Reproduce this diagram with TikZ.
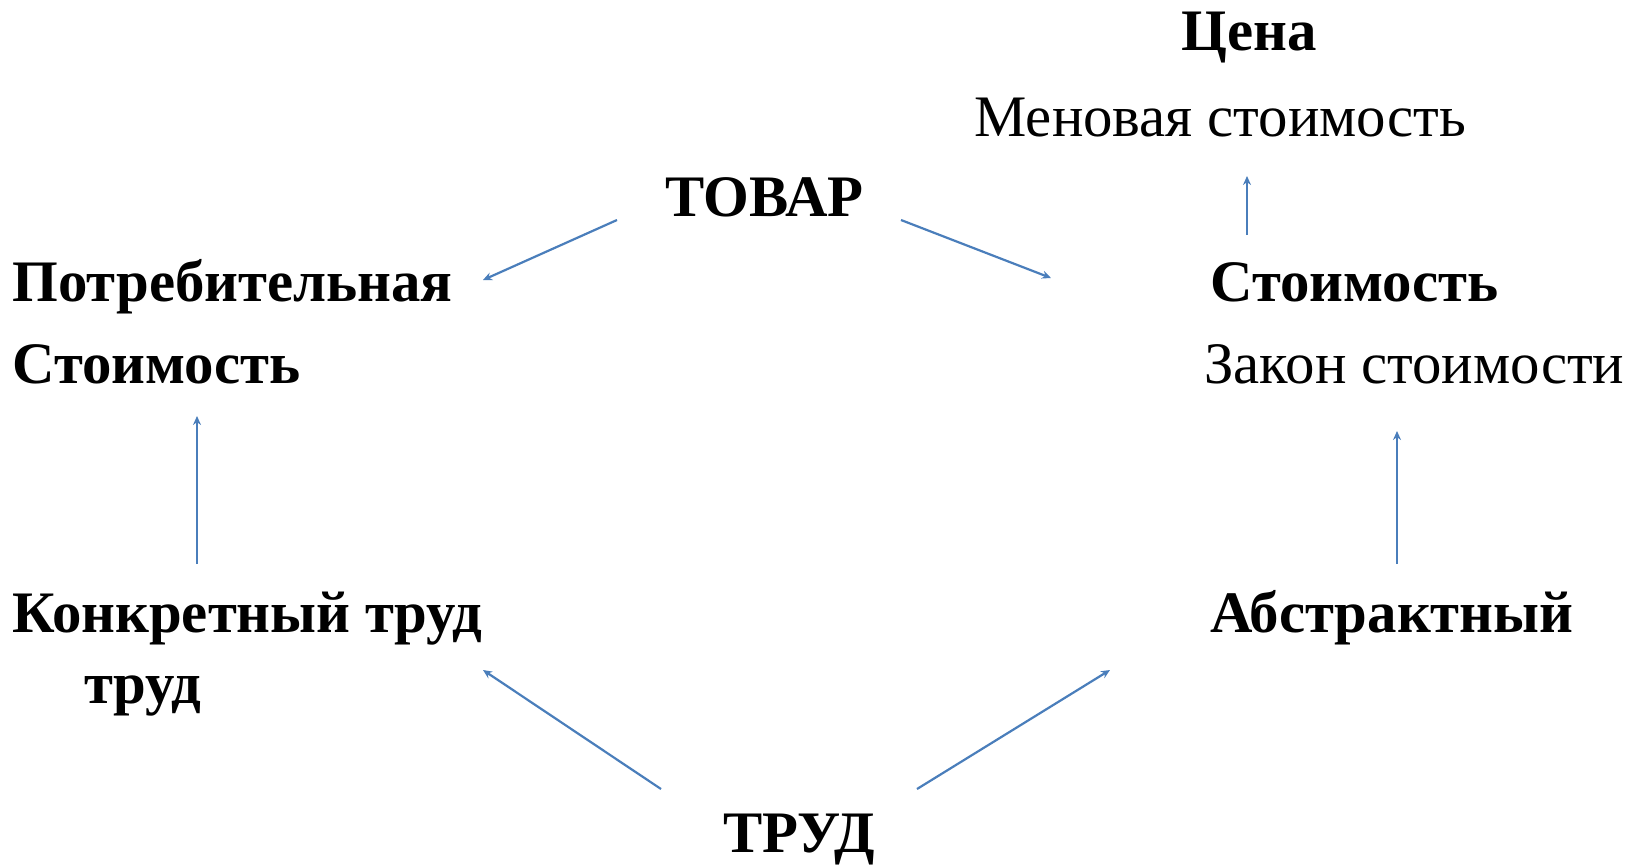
\documentclass[tikz,border=0pt]{standalone}
\usepackage{fontspec}
\setmainfont{Liberation Serif}
\usetikzlibrary{arrows.meta}
\definecolor{arrowblue}{HTML}{4A7EBB}
\tikzset{
  bl/.style={anchor=base west, inner sep=0pt, font=\fontsize{29.4}{35}\selectfont\bfseries},
  rg/.style={anchor=base west, inner sep=0pt, font=\fontsize{29.4}{35}\selectfont},
  arr/.style={draw=arrowblue, line width=1.1pt, -{Stealth[length=4.5pt,width=4pt]}}
}
\begin{document}
\begin{tikzpicture}[x=0.5pt,y=-0.5pt]
\useasboundingbox (0,0) rectangle (1639,864);
\node[bl] (cena) at (1181,50) {Цена};
\node[rg] (menov) at (974,136) {Меновая стоимость};
\node[bl] (tovar) at (665,216) {ТОВАР};
\node[bl] (potr) at (12,301) {Потребительная};
\node[bl] (stoimL) at (12,383) {Стоимость};
\node[bl] (stoimR) at (1210,301) {Стоимость};
\node[rg] (zakon) at (1204,383) {Закон стоимости};
\node[bl] (konkr) at (12,632) {Конкретный труд};
\node[bl] (trud2) at (84,703) {труд};
\node[bl] (abstr) at (1210,632) {Абстрактный};
\node[bl] (trud) at (723,852) {ТРУД};
\coordinate (a1s) at (617,220); \coordinate (a1e) at (483,280);
\coordinate (a2s) at (901,220); \coordinate (a2e) at (1051,278);
\coordinate (a3s) at (1247,235); \coordinate (a3e) at (1247,176);
\coordinate (a4s) at (197,564); \coordinate (a4e) at (197,416);
\coordinate (a5s) at (1397,564); \coordinate (a5e) at (1397,431);
\coordinate (a6s) at (661,789); \coordinate (a6e) at (483,670);
\coordinate (a7s) at (917,789); \coordinate (a7e) at (1110,670);
\draw[arr] (a1s) -- (a1e);
\draw[arr] (a2s) -- (a2e);
\draw[arr] (a3s) -- (a3e);
\draw[arr] (a4s) -- (a4e);
\draw[arr] (a5s) -- (a5e);
\draw[arr] (a6s) -- (a6e);
\draw[arr] (a7s) -- (a7e);
\end{tikzpicture}
\end{document}
